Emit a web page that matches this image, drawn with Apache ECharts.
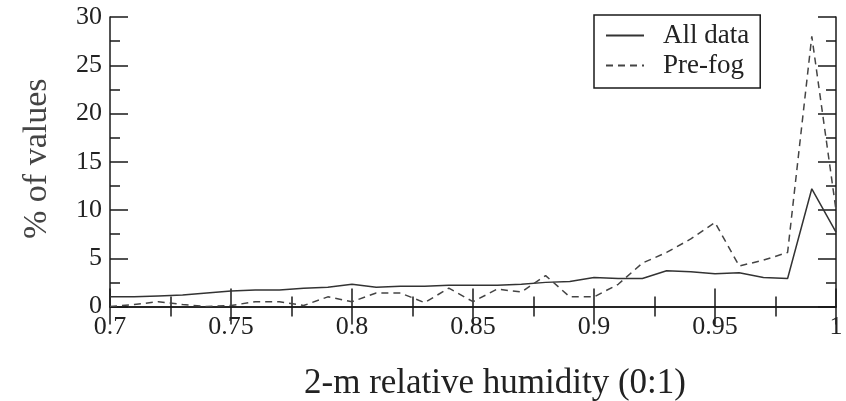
<!DOCTYPE html>
<html><head><meta charset="utf-8">
<script src="https://cdn.jsdelivr.net/npm/echarts@6/dist/echarts.min.js"></script>
<style>html,body{margin:0;padding:0;background:#fff}#c{width:846px;height:401px}</style>
</head><body><div id="c"></div>
<script>
const humidity = [0.70,0.71,0.72,0.73,0.74,0.75,0.76,0.77,0.78,0.79,0.80,0.81,0.82,0.83,0.84,0.85,0.86,0.87,0.88,0.89,0.90,0.91,0.92,0.93,0.94,0.95,0.96,0.97,0.98,0.99,1.00];
const allData = [1.0,1.0,1.1,1.2,1.4,1.6,1.7,1.7,1.9,2.0,2.3,2.0,2.1,2.1,2.2,2.2,2.2,2.3,2.5,2.6,3.0,2.9,2.9,3.7,3.6,3.4,3.5,3.0,2.9,12.2,7.7];
const preFog = [0.0,0.2,0.5,0.2,0.0,0.1,0.5,0.5,0.1,1.0,0.5,1.4,1.4,0.4,1.9,0.5,1.8,1.5,3.2,1.0,1.0,2.3,4.5,5.6,7.0,8.7,4.2,4.8,5.6,28.0,10.0];
const xTitle = '2-m relative humidity (0:1)';
const yTitle = '% of values';

const font = 'Liberation Serif';
const axisCol = '#1a1a1a';
function pair(arr){ return humidity.map((x,i)=>[x,arr[i]]); }
const chart = echarts.init(document.getElementById('c'));
const tick = {show:true, inside:true, length:18, lineStyle:{color:axisCol,width:1.5}};
const minor = {show:true, splitNumber:2, length:10, lineStyle:{color:axisCol,width:1.5}};
const line = {show:true, lineStyle:{color:axisCol,width:1.5}};
chart.setOption({
  animation:false,
  grid:{left:110,right:10,top:17,bottom:94.5,outerBoundsMode:'none',containLabel:false},
  legend:{
    orient:'vertical', left:594, top:15,
    borderColor:axisCol, borderWidth:1.5, padding:[7,11,9,11],
    itemWidth:38, itemHeight:14, itemGap:3,
    itemStyle:{opacity:0},
    textStyle:{fontFamily:font,fontSize:27,color:'#222',padding:[0,0,0,14]},
    data:['All data','Pre-fog']
  },
  xAxis:[
    {type:'value',min:0.7,max:1.0,interval:0.05,position:'bottom',
     axisLine:line,axisTick:tick,minorTick:minor,splitLine:{show:false},
     axisLabel:{fontFamily:font,fontSize:26,color:'#222',margin:8},
     name:xTitle,nameLocation:'middle',nameGap:60,
     nameTextStyle:{fontFamily:font,fontSize:35,color:'#222',padding:[0,0,0,44]}},
    {type:'value',min:0.7,max:1.0,interval:0.05,position:'top',
     axisLine:line,axisTick:tick,minorTick:minor,splitLine:{show:false},
     axisLabel:{show:false}}
  ],
  yAxis:[
    {type:'value',min:0,max:30,interval:5,position:'left',
     axisLine:line,axisTick:tick,minorTick:minor,splitLine:{show:false},
     axisLabel:{fontFamily:font,fontSize:26,color:'#222',margin:8},
     name:yTitle,nameLocation:'middle',nameGap:56,
     nameTextStyle:{fontFamily:font,fontSize:34,color:'#444',padding:[0,0,0,6]}},
    {type:'value',min:0,max:30,interval:5,position:'right',
     axisLine:line,axisTick:tick,minorTick:minor,splitLine:{show:false},
     axisLabel:{show:false}}
  ],
  series:[
    {name:'All data',type:'line',data:pair(allData),symbol:'none',
     lineStyle:{color:'#333',width:1.5},itemStyle:{color:'#333'}},
    {name:'Pre-fog',type:'line',data:pair(preFog),symbol:'none',
     lineStyle:{color:'#444',width:1.5,type:[7,5]},itemStyle:{color:'#444'}}
  ]
});
</script></body></html>
